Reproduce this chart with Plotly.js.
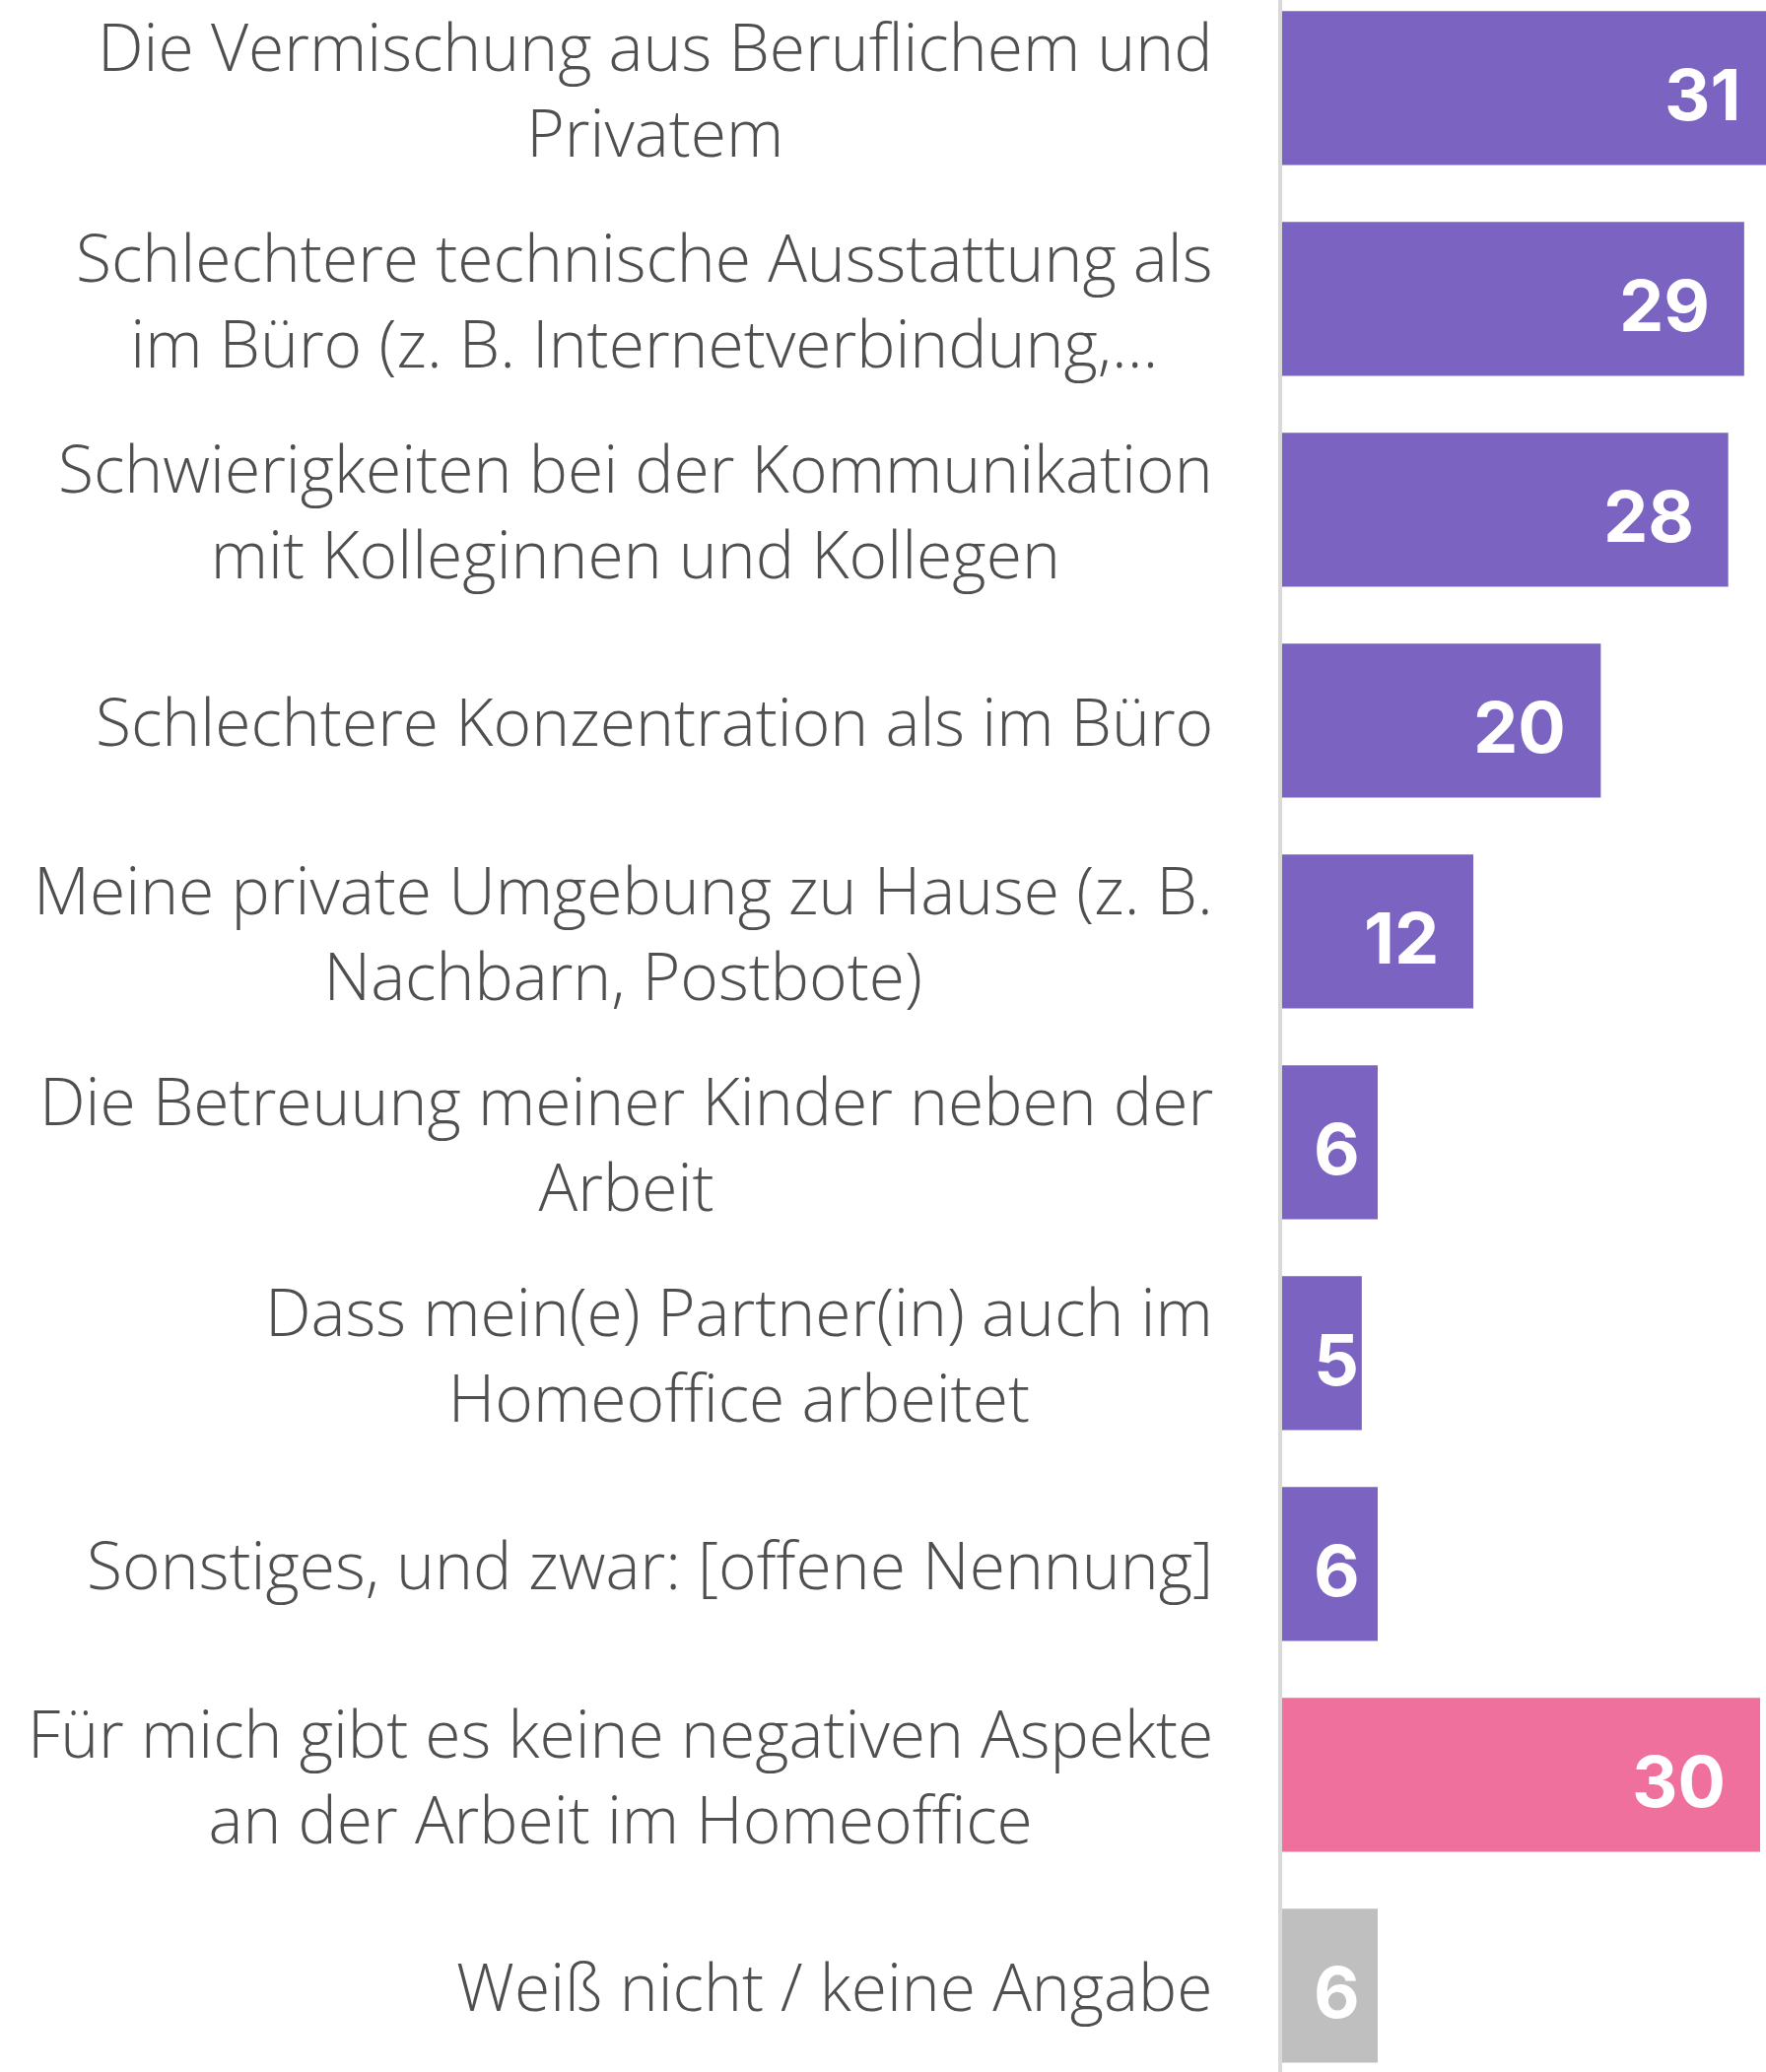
<!DOCTYPE html>
<html>
<head>
<meta charset="utf-8">
<script src="https://cdn.plot.ly/plotly-3.0.1.min.js"></script>
<style>
  html, body { margin: 0; padding: 0; background: #ffffff; }
  #chart { width: 1792px; height: 2103px; }
</style>
</head>
<body>
<div id="chart"></div>
<script>
// ---- data ----
const categories = [
  "Die Vermischung aus Beruflichem und<br>Privatem",
  "Schlechtere technische Ausstattung als<br>im Büro (z. B. Internetverbindung,…",
  "Schwierigkeiten bei der Kommunikation<br>mit Kolleginnen und Kollegen",
  "Schlechtere Konzentration als im Büro",
  "Meine private Umgebung zu Hause (z. B.<br>Nachbarn, Postbote)",
  "Die Betreuung meiner Kinder neben der<br>Arbeit",
  "Dass mein(e) Partner(in) auch im<br>Homeoffice arbeitet",
  "Sonstiges, und zwar: [offene Nennung]",
  "Für mich gibt es keine negativen Aspekte<br>an der Arbeit im Homeoffice",
  "Weiß nicht / keine Angabe"
];
const values = [31, 29, 28, 20, 12, 6, 5, 6, 30, 6];
const groups = ["aspect","aspect","aspect","aspect","aspect","aspect","aspect","aspect","none","unknown"];

// ---- styles ----
const palette = { aspect: "#7B63C1", none: "#F0709D", unknown: "#BFBFBF" };
const xMax = 30.37;
const labelGlyphSize = 66;
const labelFont = { family: "'Open Sans', Lato, sans-serif", size: 67, color: "#4f4f4f", weight: 300 };
const valueFont = { family: "Inter, 'Open Sans', sans-serif", size: 72, color: "#ffffff", weight: 700 };

const idx = categories.map((_, i) => i);

const trace = {
  type: "bar",
  orientation: "h",
  x: values,
  y: idx,
  width: 0.73,
  marker: { color: groups.map(g => palette[g]), line: { width: 0 } },
  hoverinfo: "skip"
};

const annotations = [];
categories.forEach((c, i) => {
  const styled = c.split("<br>")
    .map(line => `<span style="font-size:${labelGlyphSize}px">${line}</span>`)
    .join("<br>");
  annotations.push({
    xref: "paper", yref: "y", x: 0, y: i,
    xanchor: "right", yanchor: "middle", xshift: -68,
    text: styled, align: "center", showarrow: false, font: labelFont
  });
  const small = values[i] < 10;
  annotations.push({
    xref: "paper", yref: "y",
    x: small ? 0 : values[i] / xMax, y: i,
    xanchor: small ? "left" : "right", yanchor: "middle",
    xshift: small ? 30 : -33, yshift: -6,
    text: String(values[i]), showarrow: false, font: valueFont
  });
});

const layout = {
  width: 1792, height: 2103,
  margin: { l: 1301, r: 0, t: 0, b: 0, pad: 0 },
  paper_bgcolor: "#ffffff", plot_bgcolor: "#ffffff",
  showlegend: false,
  xaxis: { range: [0, xMax], visible: false, fixedrange: true },
  yaxis: {
    range: [9.409, -0.418], showticklabels: false, ticks: "",
    showgrid: false, zeroline: false,
    showline: true, linecolor: "#d9d9d9", linewidth: 4, fixedrange: true
  },
  annotations: annotations
};

Plotly.newPlot("chart", [trace], layout, { staticPlot: true, displayModeBar: false });
</script>
</body>
</html>
